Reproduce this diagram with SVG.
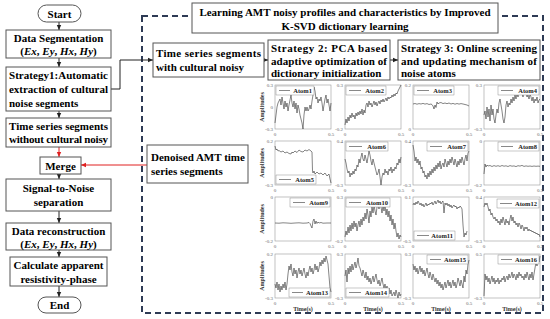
<svg xmlns="http://www.w3.org/2000/svg" width="550" height="319" viewBox="0 0 550 319">
<style>
.bx{fill:#fff;stroke:#555;stroke-width:1}
.t{font-family:"Liberation Serif",serif;font-weight:bold;font-size:11px;fill:#000}
.c{text-anchor:middle}
.ax{fill:#fff;stroke:#999;stroke-width:0.6}
.sig{fill:none;stroke:#333;stroke-width:0.6;stroke-linejoin:round}
.tk{font-family:"Liberation Serif",serif;font-size:5px;fill:#666}
.tr{text-anchor:end}
.lg{fill:#fff;stroke:#777;stroke-width:0.4}
.ll{stroke:#555;stroke-width:0.7}
.lt{font-family:"Liberation Serif",serif;font-weight:bold;font-size:6.5px;fill:#222;text-anchor:end}
.lab{font-family:"Liberation Serif",serif;font-weight:bold;font-size:6px;fill:#333;text-anchor:middle}
.ln{fill:none;stroke:#222;stroke-width:1}
.rd{fill:none;stroke:#e02020;stroke-width:1}
</style>
<defs>
<marker id="ab" markerUnits="userSpaceOnUse" markerWidth="6" markerHeight="6" refX="5" refY="3" orient="auto"><path d="M0,0.8 L5,3 L0,5.2 Z" fill="#222"/></marker>
<marker id="ar" markerUnits="userSpaceOnUse" markerWidth="6" markerHeight="6" refX="5" refY="3" orient="auto"><path d="M0,0.8 L5,3 L0,5.2 Z" fill="#e02020"/></marker>
</defs>
<rect x="0" y="0" width="550" height="319" fill="#fff"/>

<!-- dashed frame -->
<rect x="142" y="16" width="401" height="297" fill="none" stroke="#2e3b55" stroke-width="2" stroke-dasharray="6,4"/>

<g id="connectors">
<line class="ln" x1="59" y1="22" x2="59" y2="30" marker-end="url(#ab)"/>
<line class="ln" x1="59" y1="58" x2="59" y2="67" marker-end="url(#ab)"/>
<line class="ln" x1="59" y1="111" x2="59" y2="118" marker-end="url(#ab)"/>
<line class="rd" x1="59" y1="147" x2="59" y2="157" marker-end="url(#ar)"/>
<line class="ln" x1="59" y1="174" x2="59" y2="179" marker-end="url(#ab)"/>
<line class="ln" x1="59" y1="211" x2="59" y2="223" marker-end="url(#ab)"/>
<line class="ln" x1="59" y1="250" x2="59" y2="257" marker-end="url(#ab)"/>
<line class="ln" x1="59" y1="286" x2="59" y2="297" marker-end="url(#ab)"/>
<polyline class="ln" points="111,89 120,89 120,60 153,60" marker-end="url(#ab)"/>
<line class="ln" x1="264" y1="60" x2="268" y2="60" marker-end="url(#ab)"/>
<line class="ln" x1="390" y1="60" x2="398" y2="60" marker-end="url(#ab)"/>
<line class="rd" x1="147" y1="165" x2="81" y2="165" marker-end="url(#ar)"/>
</g>

<g id="start"><rect class="bx" x="38" y="5" width="43" height="17" rx="8.5"/><text class="t c" x="59.5" y="17.5">Start</text></g>
<g id="segmentation"><rect class="bx" x="6" y="30" width="105" height="28"/><text class="t c" x="58.5" y="42">Data Segmentation</text><text class="t c" x="58.5" y="55">(<tspan font-style="italic">Ex</tspan>, <tspan font-style="italic">Ey</tspan>, <tspan font-style="italic">Hx</tspan>, <tspan font-style="italic">Hy</tspan>)</text></g>
<g id="strategy1"><rect class="bx" x="6" y="67" width="105" height="44"/><text class="t" x="9" y="79" textLength="99" lengthAdjust="spacing">Strategy1:Automatic</text><text class="t" x="9" y="93" textLength="99" lengthAdjust="spacing">extraction of cultural</text><text class="t" x="9" y="107">noise segments</text></g>
<g id="without"><rect class="bx" x="6" y="118" width="105" height="29"/><text class="t" x="9" y="130" textLength="99" lengthAdjust="spacing">Time series segments</text><text class="t" x="9" y="143" textLength="99" lengthAdjust="spacing">without cultural noisy</text></g>
<g id="merge"><rect class="bx" x="40" y="157" width="41" height="17"/><text class="t c" x="60.5" y="169.5">Merge</text></g>
<g id="snr"><rect class="bx" x="6" y="179" width="105" height="32"/><text class="t c" x="58.5" y="192">Signal-to-Noise</text><text class="t c" x="58.5" y="206">separation</text></g>
<g id="reconstruction"><rect class="bx" x="6" y="223" width="105" height="27"/><text class="t c" x="58.5" y="235">Data reconstruction</text><text class="t c" x="58.5" y="247.5">(<tspan font-style="italic">Ex</tspan>, <tspan font-style="italic">Ey</tspan>, <tspan font-style="italic">Hx</tspan>, <tspan font-style="italic">Hy</tspan>)</text></g>
<g id="calculate"><rect class="bx" x="10" y="257" width="97" height="29"/><text class="t c" x="58.5" y="269">Calculate apparent</text><text class="t c" x="58.5" y="282.5">resistivity-phase</text></g>
<g id="end"><rect class="bx" x="38" y="297" width="43" height="16" rx="8"/><text class="t c" x="59.5" y="309">End</text></g>

<g id="title"><rect class="bx" x="192" y="3" width="306" height="30"/><text class="t c" x="345" y="16">Learning AMT noisy profiles and characteristics by Improved</text><text class="t c" x="345" y="29.5">K-SVD dictionary learning</text></g>
<g id="withnoise"><rect class="bx" x="153" y="43" width="111" height="34"/><text class="t" x="156" y="57" textLength="105" lengthAdjust="spacing">Time series segments</text><text class="t" x="156" y="71">with cultural noisy</text></g>
<g id="strategy2"><rect class="bx" x="268" y="40" width="122" height="40"/><text class="t" x="271" y="52" textLength="116" lengthAdjust="spacing">Strategy 2: PCA based</text><text class="t" x="271" y="65" textLength="116" lengthAdjust="spacing">adaptive optimization of</text><text class="t" x="271" y="77">dictionary initialization</text></g>
<g id="strategy3"><rect class="bx" x="398" y="40" width="142" height="40"/><text class="t" x="401" y="52" textLength="136" lengthAdjust="spacing">Strategy 3: Online screening</text><text class="t" x="401" y="65" textLength="136" lengthAdjust="spacing">and updating mechanism of</text><text class="t" x="401" y="77">noise atoms</text></g>
<g id="denoised"><rect class="bx" x="147" y="145" width="101" height="38"/><text class="t" x="151" y="161">Denoised AMT time</text><text class="t" x="151" y="175">series segments</text></g>

<g id="axislabels">
<text class="lab" transform="translate(264,107) rotate(-90)">Amplitudes</text>
<text class="lab" transform="translate(264,163) rotate(-90)">Amplitudes</text>
<text class="lab" transform="translate(264,219) rotate(-90)">Amplitudes</text>
<text class="lab" transform="translate(264,276) rotate(-90)">Amplitudes</text>
<text class="lab" x="303" y="310.5">Time(s)</text>
<text class="lab" x="373" y="310.5">Time(s)</text>
<text class="lab" x="441" y="310.5">Time(s)</text>
<text class="lab" x="512" y="310.5">Time(s)</text>
</g>

<g id="atom1" transform="translate(275,85)"><rect class="ax" width="56" height="44"/>
<polyline class="sig" points="0,38 1,30 2,22 3,18 4,16 5,14 6,20 7,12 8,18 9,24 10,16 11,22 12,18 13,26 14,20 15,15 16,10 17,18 18,22 19,16 20,24 21,18 22,28 23,20 24,24 25,30 26,34 27,38 28,44 29,30 30,22 31,26 32,22 33,26 34,24 35,20 36,24 37,16 38,10 39,2 40,6 41,14 42,12 43,18 44,14 45,16 46,12 47,18 48,26 49,20 50,14 51,10 52,18 53,14 54,20 55,26 56,18"/>
<rect class="lg" x="1" y="1" width="38" height="9"/><line class="ll" x1="4" y1="5.5" x2="15" y2="5.5"/><text class="lt" x="37" y="8">Atom1</text>
<text class="tk tr" x="-2" y="2">0.3</text><text class="tk tr" x="-2" y="24">0</text><text class="tk tr" x="-2" y="46">-0.3</text><text class="tk c" x="0" y="51">0</text><text class="tk c" x="56" y="51">0.5</text></g>

<g id="atom2" transform="translate(345,85)"><rect class="ax" width="56" height="44"/>
<polyline class="sig" points="0,40 1,34 2,38 3,32 4,36 5,30 6,33 7,28 8,32 9,30 10,34 11,28 12,31 13,27 14,30 15,26 16,29 17,24 18,30 19,25 20,28 21,20 22,18 23,22 24,16 25,20 26,18 27,22 28,19 29,16 30,20 31,17 32,21 33,18 34,16 35,19 36,15 37,17 38,14 39,17 40,15 41,13 42,16 43,12 44,14 45,12 46,13 47,10 48,12 49,9 50,11 51,8 52,9 53,6 54,4 55,2 56,0"/>
<rect class="lg" x="1" y="1" width="40" height="9"/><line class="ll" x1="4" y1="5.5" x2="16" y2="5.5"/><text class="lt" x="39" y="8">Atom2</text>
<text class="tk tr" x="-2" y="2">0.3</text><text class="tk tr" x="-2" y="46">-0.2</text><text class="tk c" x="0" y="51">0</text><text class="tk c" x="56" y="51">0.5</text></g>

<g id="atom3" transform="translate(413,85)"><rect class="ax" width="56" height="44"/>
<polyline class="sig" points="0,19 2,18.5 4,19.2 6,18.6 8,19 10,18.4 12,19.1 14,18.6 16,19.5 18,19 19,19.6 20,21 21,24 22,20 23,22.5 24,17 25,19 26,18 28,17.5 30,18.6 32,18 34,18.7 36,18 38,19 40,18.4 42,19.2 44,18.5 46,19.1 48,18.6 50,19 52,19.5 54,20 56,21"/>
<rect class="lg" x="1" y="1" width="40" height="9"/><line class="ll" x1="4" y1="5.5" x2="16" y2="5.5"/><text class="lt" x="39" y="8">Atom3</text>
<text class="tk tr" x="-2" y="2">0.2</text><text class="tk tr" x="-2" y="46">0</text><text class="tk c" x="0" y="51">0</text><text class="tk c" x="56" y="51">0.5</text></g>

<g id="atom4" transform="translate(484,85)"><rect class="ax" width="56" height="44"/>
<polyline class="sig" points="0,30 1,26 2,34 3,22 4,32 5,24 6,36 7,20 8,30 9,24 10,34 11,38 12,30 13,24 14,28 15,18 16,14 17,20 18,26 19,34 20,38 21,32 22,20 23,16 24,22 25,18 26,20 27,14 28,18 29,12 30,16 31,10 32,14 33,8 34,12 35,6 36,10 37,4 38,8 39,12 40,6 41,10 42,8 43,12 44,10 45,14 46,9 47,12 48,16 49,12 50,18 51,14 52,16 53,12 54,18 55,15 56,14"/>
<rect class="lg" x="14" y="1" width="41" height="9"/><line class="ll" x1="17" y1="5.5" x2="29" y2="5.5"/><text class="lt" x="53" y="8">Atom4</text>
<text class="tk tr" x="-2" y="2">0.3</text><text class="tk tr" x="-2" y="46">-0.3</text><text class="tk c" x="0" y="51">0</text><text class="tk c" x="56" y="51">0.5</text></g>

<g id="atom5" transform="translate(275,141)"><rect class="ax" width="56" height="44"/>
<polyline class="sig" points="0,5 1,9 2,8 3,10 4,9.5 6,11 8,10 10,12 12,11 14,12.5 16,13 17,11 18,12 20,10 22,11.5 24,9 26,10.5 28,11 30,9 32,10 34,8.5 36,10 37,11 37.5,30 38,32 39,30 40,33 42,31 44,33 46,32 48,34 50,32 52,35 54,33 55,38 56,42"/>
<rect class="lg" x="1" y="34" width="40" height="9"/><line class="ll" x1="4" y1="38.5" x2="16" y2="38.5"/><text class="lt" x="39" y="41">Atom5</text>
<text class="tk tr" x="-2" y="2">0.2</text><text class="tk tr" x="-2" y="46">-0.3</text><text class="tk c" x="0" y="51">0</text><text class="tk c" x="56" y="51">0.5</text></g>

<g id="atom6" transform="translate(345,141)"><rect class="ax" width="56" height="44"/>
<polyline class="sig" points="0,18 1,22 2,28 3,32 4,30 5,36 6,32 7,34 8,30 9,33 10,28 11,30 12,24 13,26 14,18 15,22 16,16 17,12 18,18 19,20 20,14 21,18 22,22 23,16 24,10 25,14 26,20 27,24 28,18 29,22 30,26 31,30 32,34 33,32 34,28 35,36 36,44 37,36 38,32 39,34 40,28 41,32 42,30 43,34 44,28 45,30 46,26 47,32 48,28 49,30 50,26 51,28 52,22 53,24 54,18 55,22 56,16"/>
<rect class="lg" x="1" y="1" width="42" height="9"/><line class="ll" x1="4" y1="5.5" x2="17" y2="5.5"/><text class="lt" x="41" y="8">Atom6</text>
<text class="tk tr" x="-2" y="2">0.4</text><text class="tk tr" x="-2" y="46">-0.3</text><text class="tk c" x="0" y="51">0</text><text class="tk c" x="56" y="51">0.5</text></g>

<g id="atom7" transform="translate(413,141)"><rect class="ax" width="56" height="44"/>
<polyline class="sig" points="0,4 1,10 2,20 3,16 4,22 5,18 6,24 7,20 8,28 9,26 10,32 11,30 12,36 13,34 14,38 15,32 16,36 17,30 18,34 19,28 20,32 21,26 22,30 23,24 24,28 25,22 26,26 27,20 28,28 29,24 30,22 31,26 32,18 33,22 34,26 35,20 36,24 37,18 38,22 39,16 40,20 41,24 42,18 43,22 44,26 45,20 46,24 47,18 48,22 49,16 50,20 51,24 52,18 53,14 54,20 55,12 56,10"/>
<rect class="lg" x="14" y="1" width="41" height="9"/><line class="ll" x1="17" y1="5.5" x2="29" y2="5.5"/><text class="lt" x="53" y="8">Atom7</text>
<text class="tk tr" x="-2" y="2">0.4</text><text class="tk tr" x="-2" y="46">-0.3</text><text class="tk c" x="0" y="51">0</text><text class="tk c" x="56" y="51">0.5</text></g>

<g id="atom8" transform="translate(484,141)"><rect class="ax" width="56" height="44"/>
<polyline class="sig" points="0,33 1,23 2,26 3,24 4,25 6,24.5 8,25.5 10,24.6 12,25.3 14,24.7 16,25.4 18,24.5 20,25.2 22,24.8 24,25.5 26,24.6 28,25.2 30,24.9 32,25.6 34,24.7 36,25.1 38,24.4 40,25.4 42,24.9 44,25.3 46,25 48,25.4 50,25 52,25.3 54,25.1 56,25.3"/>
<rect class="lg" x="14" y="1" width="41" height="9"/><line class="ll" x1="17" y1="5.5" x2="29" y2="5.5"/><text class="lt" x="53" y="8">Atom8</text>
<text class="tk tr" x="-2" y="2">0</text><text class="tk tr" x="-2" y="46">-0.2</text><text class="tk c" x="0" y="51">0</text><text class="tk c" x="56" y="51">0.5</text></g>

<g id="atom9" transform="translate(275,197)"><rect class="ax" width="56" height="44"/>
<polyline class="sig" points="0,26 4,26.2 8,25.8 12,26 16,26.3 20,26 24,25.8 28,26.2 32,26 34,25.5 35,26.5 36,29 37,31 38,24 39,22 40,27 41,24 42,26.5 43,25 44,26 46,25.5 48,26.2 52,26 56,26"/>
<rect class="lg" x="15" y="1" width="40" height="9"/><line class="ll" x1="18" y1="5.5" x2="30" y2="5.5"/><text class="lt" x="53" y="8">Atom9</text>
<text class="tk tr" x="-2" y="2">0</text><text class="tk tr" x="-2" y="46">-0.2</text><text class="tk c" x="0" y="51">0</text><text class="tk c" x="56" y="51">0.5</text></g>

<g id="atom10" transform="translate(345,197)"><rect class="ax" width="56" height="44"/>
<polyline class="sig" points="0,40 1,34 2,38 3,30 4,36 5,28 6,34 7,26 8,32 9,24 10,30 11,26 12,34 13,28 14,24 15,30 16,22 17,28 18,20 19,24 20,16 21,22 22,12 23,18 24,26 25,14 26,20 27,10 28,16 29,8 30,14 31,18 32,10 33,6 34,12 35,4 36,10 37,16 38,8 39,14 40,6 41,18 42,12 43,20 44,14 45,24 46,18 47,28 48,22 49,32 50,26 51,34 52,40 53,36 54,42 55,38 56,40"/>
<rect class="lg" x="1" y="1" width="44" height="9"/><line class="ll" x1="4" y1="5.5" x2="16" y2="5.5"/><text class="lt" x="43" y="8">Atom10</text>
<text class="tk tr" x="-2" y="2">0.3</text><text class="tk tr" x="-2" y="46">-0.2</text><text class="tk c" x="0" y="51">0</text><text class="tk c" x="56" y="51">0.5</text></g>

<g id="atom11" transform="translate(413,197)"><rect class="ax" width="56" height="44"/>
<polyline class="sig" points="0,8 1,6 2,8 3,5 4,7 5,4 6,6 7,8 8,6 9,9 10,7 11,10 12,8 13,6 14,9 15,7 16,8 17,6 18,7 19,5 20,8 21,6 22,4 23,7 24,5 25,3 26,6 27,4 28,7 29,5 30,4 31,16 32,6 33,8 34,6 35,9 36,7 37,10 38,8 39,11 40,9 41,8 42,10 43,9 44,12 45,10 46,11 47,9 48,10 49,12 50,28 51,40 52,36 53,38 54,34"/>
<rect class="lg" x="1" y="34" width="41" height="9"/><line class="ll" x1="4" y1="38.5" x2="16" y2="38.5"/><text class="lt" x="40" y="41">Atom11</text>
<text class="tk tr" x="-2" y="2">0.1</text><text class="tk tr" x="-2" y="46">-0.5</text><text class="tk c" x="0" y="51">0</text><text class="tk c" x="56" y="51">0.5</text></g>

<g id="atom12" transform="translate(484,197)"><rect class="ax" width="56" height="44"/>
<polyline class="sig" points="0,10 1,6 2,8 3,6 4,10 5,14 6,12 7,18 8,16 9,20 10,22 11,20 12,24 13,22 14,26 15,24 16,28 17,22 18,26 19,20 20,24 21,28 22,22 23,26 24,24 25,28 26,22 27,18 28,24 29,20 30,26 31,24 32,28 33,26 34,30 35,26 36,28 37,32 38,28 39,30 40,34 41,30 42,32 43,30 44,34 45,32 46,34 47,33 48,35 49,34 50,36 51,35 52,37 53,36 54,38 55,37 56,40"/>
<rect class="lg" x="13" y="2" width="42" height="9"/><line class="ll" x1="16" y1="6.5" x2="28" y2="6.5"/><text class="lt" x="53" y="9">Atom12</text>
<text class="tk tr" x="-2" y="2">0.4</text><text class="tk tr" x="-2" y="46">-0.3</text><text class="tk c" x="0" y="51">0</text><text class="tk c" x="56" y="51">0.5</text></g>

<g id="atom13" transform="translate(275,254)"><rect class="ax" width="56" height="44"/>
<polyline class="sig" points="0,30 1,34 2,28 3,36 4,30 5,38 6,32 7,36 8,30 9,34 10,28 11,36 12,30 13,20 14,12 15,16 16,10 17,18 18,22 19,14 20,20 21,16 22,24 23,18 24,14 25,20 26,16 27,22 28,18 29,14 30,20 31,24 32,18 33,22 34,16 35,12 36,18 37,14 38,20 39,16 40,10 41,16 42,12 43,18 44,14 45,8 46,12 47,6 48,10 49,4 50,8 51,2 52,6 53,10 54,22 55,34 56,38"/>
<rect class="lg" x="14" y="34" width="41" height="9"/><line class="ll" x1="17" y1="38.5" x2="28" y2="38.5"/><text class="lt" x="53" y="41">Atom13</text>
<text class="tk tr" x="-2" y="2">0.2</text><text class="tk tr" x="-2" y="46">-0.3</text><text class="tk c" x="0" y="51">0</text><text class="tk c" x="56" y="51">0.5</text></g>

<g id="atom14" transform="translate(345,254)"><rect class="ax" width="56" height="44"/>
<polyline class="sig" points="0,22 1,16 2,28 3,14 4,20 5,12 6,18 7,10 8,16 9,12 10,8 11,14 12,10 13,4 14,12 15,14 16,18 17,22 18,16 19,20 20,24 21,18 22,26 23,22 24,28 25,24 26,30 27,26 28,22 29,28 30,24 31,20 32,26 33,30 34,26 35,32 36,28 37,24 38,30 39,34 40,30 41,36 42,32 43,38 44,34 45,40 46,36 47,42 48,40 49,38 50,42 51,36 52,40 53,44 54,38 55,42 56,40"/>
<rect class="lg" x="1" y="34" width="43" height="9"/><line class="ll" x1="4" y1="38.5" x2="16" y2="38.5"/><text class="lt" x="42" y="41">Atom14</text>
<text class="tk tr" x="-2" y="2">0.3</text><text class="tk tr" x="-2" y="46">-0.3</text><text class="tk c" x="0" y="51">0</text><text class="tk c" x="56" y="51">0.5</text></g>

<g id="atom15" transform="translate(413,254)"><rect class="ax" width="56" height="44"/>
<polyline class="sig" points="0,10 1,16 2,12 3,18 4,14 5,20 6,16 7,12 8,18 9,14 10,20 11,16 12,22 13,18 14,14 15,20 16,24 17,18 18,22 19,26 20,20 21,24 22,28 23,24 24,30 25,26 26,32 27,28 28,34 29,30 30,36 31,32 32,28 33,34 34,30 35,26 36,32 37,28 38,34 39,30 40,26 41,32 42,28 43,34 44,30 45,24 46,28 47,32 48,26 49,30 50,34 51,22 52,28 53,16 54,20 55,10 56,6"/>
<rect class="lg" x="14" y="1" width="41" height="9"/><line class="ll" x1="17" y1="5.5" x2="28" y2="5.5"/><text class="lt" x="53" y="8">Atom15</text>
<text class="tk tr" x="-2" y="2">0.3</text><text class="tk tr" x="-2" y="46">-0.3</text><text class="tk c" x="0" y="51">0</text><text class="tk c" x="56" y="51">0.5</text></g>

<g id="atom16" transform="translate(484,254)"><rect class="ax" width="56" height="44"/>
<polyline class="sig" points="0,42 1,20 2,26 3,22 4,28 5,24 6,30 7,26 8,22 9,28 10,24 11,30 12,26 13,28 14,24 15,30 16,26 17,28 18,24 19,26 20,22 21,28 22,24 23,22 24,26 25,20 26,24 27,22 28,18 29,24 30,20 31,22 32,26 33,20 34,24 35,18 36,22 37,20 38,24 39,22 40,26 41,20 42,24 43,18 44,22 45,26 46,20 47,24 48,18 49,26 50,20 51,14 52,8 53,12 54,4 55,8 56,2"/>
<rect class="lg" x="14" y="1" width="41" height="9"/><line class="ll" x1="17" y1="5.5" x2="28" y2="5.5"/><text class="lt" x="53" y="8">Atom16</text>
<text class="tk tr" x="-2" y="2">0.5</text><text class="tk tr" x="-2" y="46">-0.3</text><text class="tk c" x="0" y="51">0</text><text class="tk c" x="56" y="51">0.5</text></g>
</svg>
